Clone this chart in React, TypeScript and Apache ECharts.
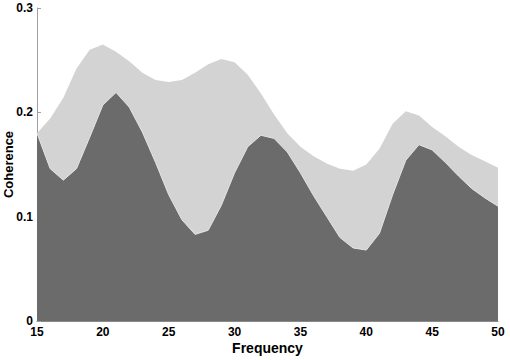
import React, { useEffect, useRef } from "react";
import * as echarts from "echarts";

const frequencies = [15,16,17,18,19,20,21,22,23,24,25,26,27,28,29,30,31,32,33,34,35,36,37,38,39,40,41,42,43,44,45,46,47,48,49,50];
const upperCoherence = [0.180,0.194,0.214,0.242,0.260,0.265,0.258,0.249,0.238,0.231,0.229,0.231,0.238,0.246,0.251,0.248,0.236,0.218,0.198,0.180,0.167,0.158,0.151,0.146,0.144,0.150,0.165,0.189,0.201,0.197,0.186,0.177,0.167,0.159,0.153,0.147];
const lowerCoherence = [0.180,0.146,0.135,0.146,0.176,0.207,0.219,0.205,0.181,0.152,0.121,0.097,0.083,0.087,0.111,0.142,0.167,0.178,0.175,0.162,0.142,0.120,0.100,0.080,0.070,0.068,0.084,0.121,0.154,0.169,0.164,0.152,0.139,0.127,0.118,0.110];
const yTicks = [0, 0.1, 0.2, 0.3];

const FONT = "'Liberation Sans', Arial, sans-serif";

export default function App() {
  const ref = useRef<HTMLDivElement>(null);
  useEffect(() => {
    if (!ref.current) return;
    const chart = echarts.init(ref.current, null, { renderer: "svg" });
    chart.setOption({
      animation: false,
      grid: { left: 37, right: 12, top: 8, bottom: 39, containLabel: false, outerBoundsMode: "none" },
      xAxis: {
        type: "value",
        min: 15,
        max: 50,
        interval: 5,
        name: "Frequency",
        nameLocation: "middle",
        nameGap: 20,
        nameMoveOverlap: false,
        nameTextStyle: { fontFamily: FONT, fontWeight: "bold", fontSize: 14, color: "#000" },
        axisLine: { show: true, lineStyle: { color: "#8a8a8a", width: 1 } },
        axisTick: { show: false },
        splitLine: { show: false },
        axisLabel: { fontFamily: FONT, fontWeight: "bold", fontSize: 12, color: "#000", margin: 5 },
      },
      yAxis: {
        type: "value",
        min: 0,
        max: 0.3,
        interval: 0.1,
        name: "Coherence",
        nameLocation: "middle",
        nameGap: 22,
        nameMoveOverlap: false,
        nameRotate: 90,
        nameTextStyle: { fontFamily: FONT, fontWeight: "bold", fontSize: 13, color: "#000" },
        axisLine: { show: true, lineStyle: { color: "#a0a0a0", width: 1 } },
        axisTick: { show: true, inside: true, length: 4, lineStyle: { color: "#a0a0a0" } },
        splitLine: { show: false },
        axisLabel: {
          fontFamily: FONT, fontWeight: "bold", fontSize: 12, color: "#000", margin: 4,
          formatter: (v: number) => {
            const t = yTicks.find((y) => Math.abs(y - v) < 1e-9);
            return t === 0 ? "0" : String(Math.round(v * 10) / 10);
          },
        },
      },
      series: [
        {
          type: "line",
          data: frequencies.map((f, i) => [f, upperCoherence[i]]),
          showSymbol: false,
          symbol: "none",
          lineStyle: { width: 0 },
          areaStyle: { color: "#d3d3d3", opacity: 1 },
          z: 2,
        },
        {
          type: "line",
          data: frequencies.map((f, i) => [f, lowerCoherence[i]]),
          showSymbol: false,
          symbol: "none",
          lineStyle: { width: 1, color: "#e4e4e4" },
          areaStyle: { color: "#6b6b6b", opacity: 1 },
          z: 3,
        },
      ],
    });
    return () => chart.dispose();
  }, []);
  return <div ref={ref} style={{ width: 510, height: 360, position: "absolute", left: 0, top: 0 }} />;
}
